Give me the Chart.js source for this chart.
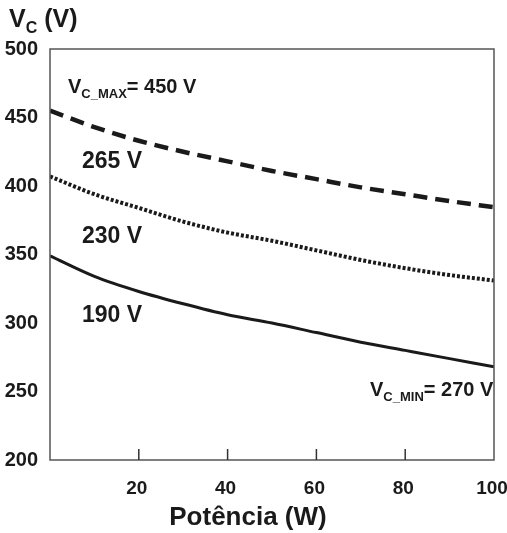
<!DOCTYPE html>
<html>
<head>
<meta charset="utf-8">
<script src="https://cdn.jsdelivr.net/npm/chart.js@4.4.1/dist/chart.umd.min.js"></script>
<style>
  html, body { margin: 0; padding: 0; background: #fff; }
  #wrap { width: 507px; height: 533px; position: relative; }
</style>
</head>
<body>
<div id="wrap"><canvas id="chart"></canvas></div>
<script>
// data
const powerW = [0, 10, 20, 30, 40, 50, 60, 70, 80, 90, 100];
const vc265 = [455, 443, 433, 425, 418, 411, 405, 399, 394, 389, 384.5];
const vc230 = [407, 394, 384, 374, 366, 360, 353, 346, 340, 335, 331];
const vc190 = [349, 334, 323, 314, 306, 300, 293, 286, 280, 274, 268];
const xTicks = [20, 40, 60, 80, 100];
const yTicks = [200, 250, 300, 350, 400, 450, 500];

const FONT = "'Liberation Sans', Arial, sans-serif";
const INK = '#1a1a1a';

const toPoints = (vals) => vals.map((v, i) => ({ x: powerW[i], y: v }));

function subText(ctx, x, y, main, sub, rest, big, small) {
  ctx.font = 'bold ' + big + 'px ' + FONT;
  ctx.fillText(main, x, y);
  x += ctx.measureText(main).width;
  ctx.font = 'bold ' + small + 'px ' + FONT;
  ctx.fillText(sub, x, y + small * 0.4);
  x += ctx.measureText(sub).width;
  ctx.font = 'bold ' + big + 'px ' + FONT;
  ctx.fillText(rest, x, y);
}

const decor = {
  id: 'decor',
  afterDraw(chart) {
    const { ctx, chartArea: a, scales } = chart;
    ctx.save();
    // frame
    ctx.strokeStyle = '#555';
    ctx.lineWidth = 1.5;
    ctx.strokeRect(a.left, a.top, a.right - a.left, a.bottom - a.top);
    // inward x ticks
    ctx.strokeStyle = '#333';
    ctx.lineWidth = 1.5;
    xTicks.filter((t) => t < 100).forEach((t) => {
      const px = scales.x.getPixelForValue(t);
      ctx.beginPath();
      ctx.moveTo(px, a.bottom);
      ctx.lineTo(px, a.bottom - 11);
      ctx.stroke();
    });
    // texts
    ctx.fillStyle = INK;
    ctx.textBaseline = 'alphabetic';
    ctx.textAlign = 'left';
    subText(ctx, 9, 27, 'V', 'C', ' (V)', 25, 16);
    subText(ctx, 68, 93, 'V', 'C_MAX', '= 450 V', 20, 13);
    subText(ctx, 370, 396, 'V', 'C_MIN', '= 270 V', 20, 13);
    ctx.font = 'bold 23px ' + FONT;
    ctx.fillText('265 V', 82, 168);
    ctx.fillText('230 V', 82, 243);
    ctx.fillText('190 V', 82, 322);
    ctx.textAlign = 'center';
    ctx.font = 'bold 26px ' + FONT;
    ctx.fillText('Potência (W)', 248, 525);
    ctx.restore();
  },
};

new Chart(document.getElementById('chart'), {
  type: 'line',
  data: {
    datasets: [
      { label: '265 V', data: toPoints(vc265), borderColor: INK, borderWidth: 4.5, borderDash: [14, 8] },
      { label: '230 V', data: toPoints(vc230), borderColor: INK, borderWidth: 4, borderDash: [3, 2] },
      { label: '190 V', data: toPoints(vc190), borderColor: INK, borderWidth: 3 },
    ],
  },
  options: {
    responsive: true,
    maintainAspectRatio: false,
    animation: false,
    elements: { point: { radius: 0 }, line: { cubicInterpolationMode: 'monotone' } },
    layout: { padding: { top: 49, right: 13, left: 0, bottom: 0 } },
    plugins: { legend: { display: false }, tooltip: { enabled: false } },
    scales: {
      x: {
        type: 'linear',
        min: 0,
        max: 100,
        afterBuildTicks: (s) => { s.ticks = xTicks.map((v) => ({ value: v })); },
        afterFit: (s) => { s.height = 73; s.paddingLeft = 0; s.paddingRight = 0; },
        grid: { display: false, drawTicks: false },
        border: { display: false },
        ticks: { padding: 17, labelOffset: -2, color: INK, font: { family: FONT, size: 19, weight: 'bold' }, maxRotation: 0 },
      },
      y: {
        type: 'linear',
        min: 200,
        max: 500,
        afterBuildTicks: (s) => { s.ticks = yTicks.map((v) => ({ value: v })); },
        afterFit: (s) => { s.width = 50; s.paddingTop = 0; s.paddingBottom = 0; },
        grid: { display: false, drawTicks: false },
        border: { display: false },
        ticks: { padding: 12, color: INK, font: { family: FONT, size: 20, weight: 'bold' } },
      },
    },
  },
  plugins: [decor],
});
</script>
</body>
</html>
